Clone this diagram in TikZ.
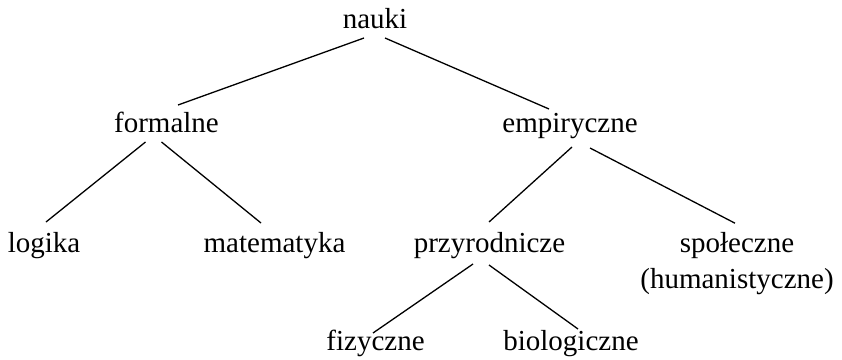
\documentclass[tikz,border=0pt]{standalone}
\usepackage{fontspec}
\setmainfont{Liberation Serif}
\usetikzlibrary{calc}
\begin{document}
\begin{tikzpicture}[x=1pt,y=-1pt,
  term/.style={inner sep=0pt, anchor=base, font=\fontsize{29}{36}\selectfont},
  edge/.style={line width=1.3pt}]
\useasboundingbox (0,0) rectangle (842,359);

% terms of the classification
\node[term] (nauki)  at (375,28)    {nauki};
\node[term] (formal) at (166.5,132) {formalne};
\node[term] (empir)  at (570,132)   {empiryczne};
\node[term] (logika) at (44,252)    {logika};
\node[term] (matem)  at (274.5,252) {matematyka};
\node[term] (przyr)  at (489.5,252) {przyrodnicze};
\node[term, anchor=north, align=center] (spol) at (737,232.2) {społeczne\\(humanistyczne)};
\node[term] (fiz)    at (375.5,350) {fizyczne};
\node[term] (bio)    at (571,350)   {biologiczne};

% branches
\draw[edge] ($(nauki.base)+(-11,10)$)  -- ($(formal.base)+(11.5,-27)$);
\draw[edge] ($(nauki.base)+(10,10)$)   -- ($(empir.base)+(-21,-23)$);
\draw[edge] ($(formal.base)+(-21,10)$) -- ($(logika.base)+(2,-30)$);
\draw[edge] ($(formal.base)+(-5,10)$)  -- ($(matem.base)+(-13.5,-29)$);
\draw[edge] ($(empir.base)+(2,15)$)    -- ($(przyr.base)+(-0.5,-30)$);
\draw[edge] ($(empir.base)+(20,16)$)   -- ($(spol.north)+(-2,-9)$);
\draw[edge] ($(przyr.base)+(-16.5,12)$) -- ($(fiz.base)+(-2.5,-17)$);
\draw[edge] ($(przyr.base)+(-0.5,13)$) -- ($(bio.base)+(7,-21)$);
\end{tikzpicture}
\end{document}
